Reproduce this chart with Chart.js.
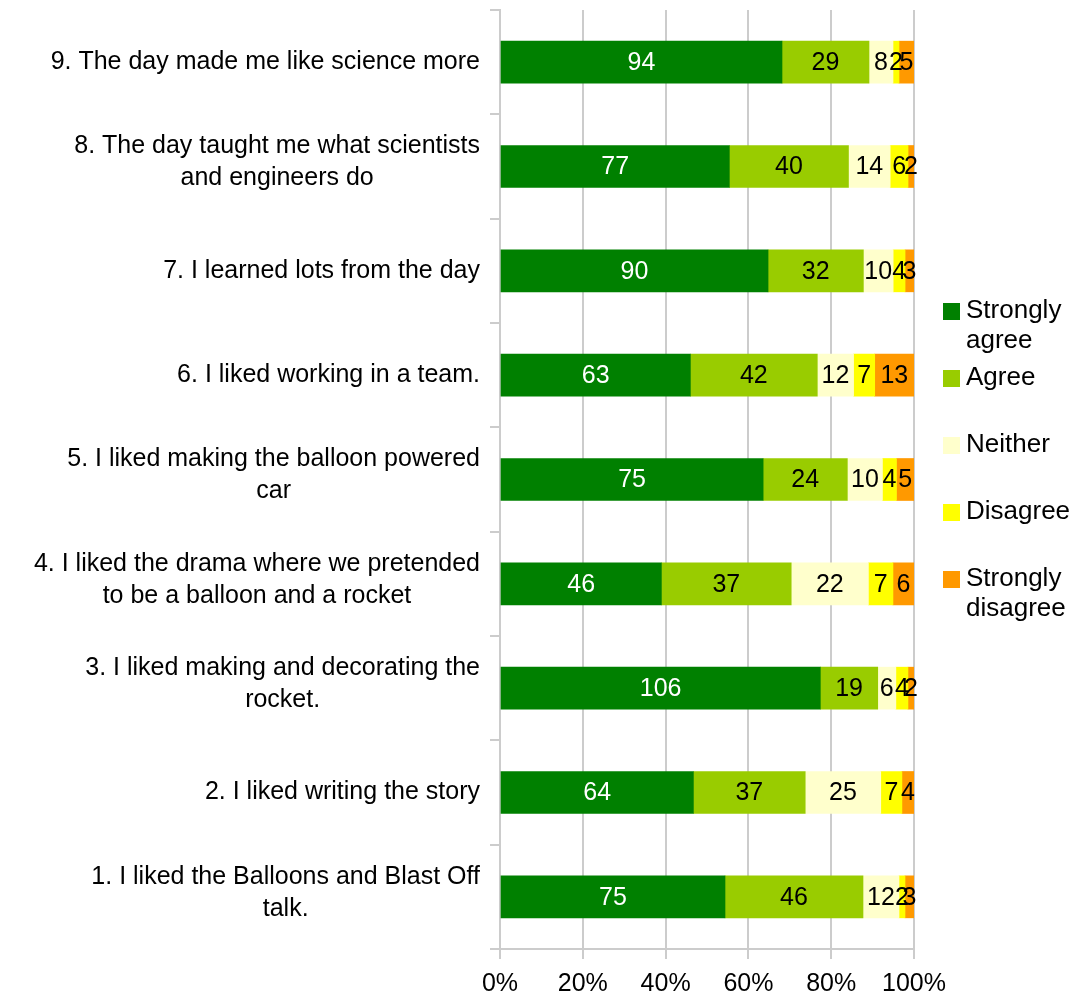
<!DOCTYPE html>
<html>
<head>
<meta charset="utf-8">
<script src="https://cdn.jsdelivr.net/npm/chart.js@4/dist/chart.umd.min.js"></script>
<style>
body { margin: 0; background: #fff; }
#dibujo { width: 1075px; height: 999px; position: relative; }
</style>
</head>
<body>
<div id="dibujo"><canvas id="myChart"></canvas></div>
<script>
// statements, top to bottom
var categorias = [
    ['9. The day made me like science more'],
    ['8. The day taught me what scientists', 'and engineers do'],
    ['7. I learned lots from the day'],
    ['6. I liked working in a team.'],
    ['5. I liked making the balloon powered', 'car'],
    ['4. I liked the drama where we pretended', 'to be a balloon and a rocket'],
    ['3. I liked making and decorating the', 'rocket.'],
    ['2. I liked writing the story'],
    ['1. I liked the Balloons and Blast Off', 'talk.']
];

// number of answers per statement
var stronglyAgree    = [94, 77, 90, 63, 75, 46, 106, 64, 75];
var agree            = [29, 40, 32, 42, 24, 37, 19, 37, 46];
var neither          = [8, 14, 10, 12, 10, 22, 6, 25, 12];
var disagree         = [2, 6, 4, 7, 4, 7, 4, 7, 2];
var stronglyDisagree = [5, 2, 3, 13, 5, 6, 2, 4, 3];

var nombres = ['Strongly agree', 'Agree', 'Neither', 'Disagree', 'Strongly disagree'];
var colores = ['#008000', '#99cc00', '#ffffcc', '#ffff00', '#ff9900'];
var xTicks = [0, 20, 40, 60, 80, 100];

var fuente = "'Liberation Sans', Arial, sans-serif";
var series = [stronglyAgree, agree, neither, disagree, stronglyDisagree];

function porcentajes(serie){
    var out = [];
    for (var j = 0; j < serie.length; j++) {
        var total = 0;
        for (var k = 0; k < series.length; k++) total += series[k][j];
        out.push(serie[j] / total * 100);
    }
    return out;
}

var datasets = [];
for (var i = 0; i < series.length; i++) {
    datasets.push({
        label: nombres[i],
        backgroundColor: colores[i],
        borderWidth: 0,
        barThickness: 42,
        data: porcentajes(series[i]),
        conteo: series[i]
    });
}

// value labels, statement labels and the legend
var dibujarTextos = {
    id: 'dibujarTextos',
    afterDatasetsDraw: function(chart){
        var ctx = chart.ctx;
        ctx.save();
        ctx.font = '25px ' + fuente;
        ctx.textAlign = 'center';
        ctx.textBaseline = 'middle';
        chart.data.datasets.forEach(function(ds, i){
            var meta = chart.getDatasetMeta(i);
            meta.data.forEach(function(bar, j){
                ctx.fillStyle = i === 0 ? '#ffffff' : '#000000';
                ctx.fillText(String(ds.conteo[j]), (bar.x + bar.base) / 2, bar.y + 1);
            });
        });

        // statement labels: block right aligned, lines centred
        var y = chart.scales.y;
        var derecha = y.left - 10;
        ctx.fillStyle = '#000';
        chart.data.labels.forEach(function(lineas, j){
            var ancho = 0;
            lineas.forEach(function(l){ ancho = Math.max(ancho, ctx.measureText(l).width); });
            var cy = y.getPixelForValue(j);
            var alto = 32;
            var y0 = cy - (lineas.length - 1) * alto / 2;
            if (lineas.length > 1) y0 -= 4;
            lineas.forEach(function(l, n){
                ctx.fillText(l, derecha - ancho / 2, y0 + n * alto);
            });
        });

        // legend
        ctx.font = '26px ' + fuente;
        var lx = chart.chartArea.right + 29;
        var ly = 311;
        ctx.textAlign = 'left';
        chart.data.datasets.forEach(function(ds, i){
            var cy = ly + i * 67;
            ctx.fillStyle = ds.backgroundColor;
            ctx.fillRect(lx, cy - 8, 17, 17);
            ctx.fillStyle = '#000';
            var partes = ds.label.indexOf('Strongly') === 0 ? ['Strongly', ds.label.substring(9)] : [ds.label];
            partes.forEach(function(p, n){
                ctx.fillText(p, lx + 23, cy + n * 30);
            });
        });
        ctx.restore();
    }
};

var ctx = document.getElementById('myChart').getContext('2d');
var chart = new Chart(ctx, {
    type: 'bar',
    data: {
        labels: categorias,
        datasets: datasets
    },
    options: {
        indexAxis: 'y',
        responsive: true,
        maintainAspectRatio: false,
        animation: false,
        layout: { padding: { left: 490, right: 161, top: 10, bottom: -10 } },
        plugins: {
            legend: { display: false },
            tooltip: { enabled: false }
        },
        scales: {
            x: {
                stacked: true,
                min: 0,
                max: 100,
                afterBuildTicks: function(axis){
                    axis.ticks = xTicks.map(function(v){ return { value: v }; });
                },
                ticks: {
                    color: '#000',
                    font: { size: 25, family: fuente },
                    padding: 10,
                    maxRotation: 0,
                    callback: function(v){ return v + '%'; }
                },
                grid: { color: '#cccccc', tickLength: 10, lineWidth: 2 },
                border: { color: '#cccccc', width: 2 }
            },
            y: {
                stacked: true,
                ticks: { display: false },
                grid: { drawOnChartArea: false, tickLength: 10, color: '#cccccc', lineWidth: 2 },
                border: { color: '#cccccc', width: 2 }
            }
        }
    },
    plugins: [dibujarTextos]
});
</script>
</body>
</html>
